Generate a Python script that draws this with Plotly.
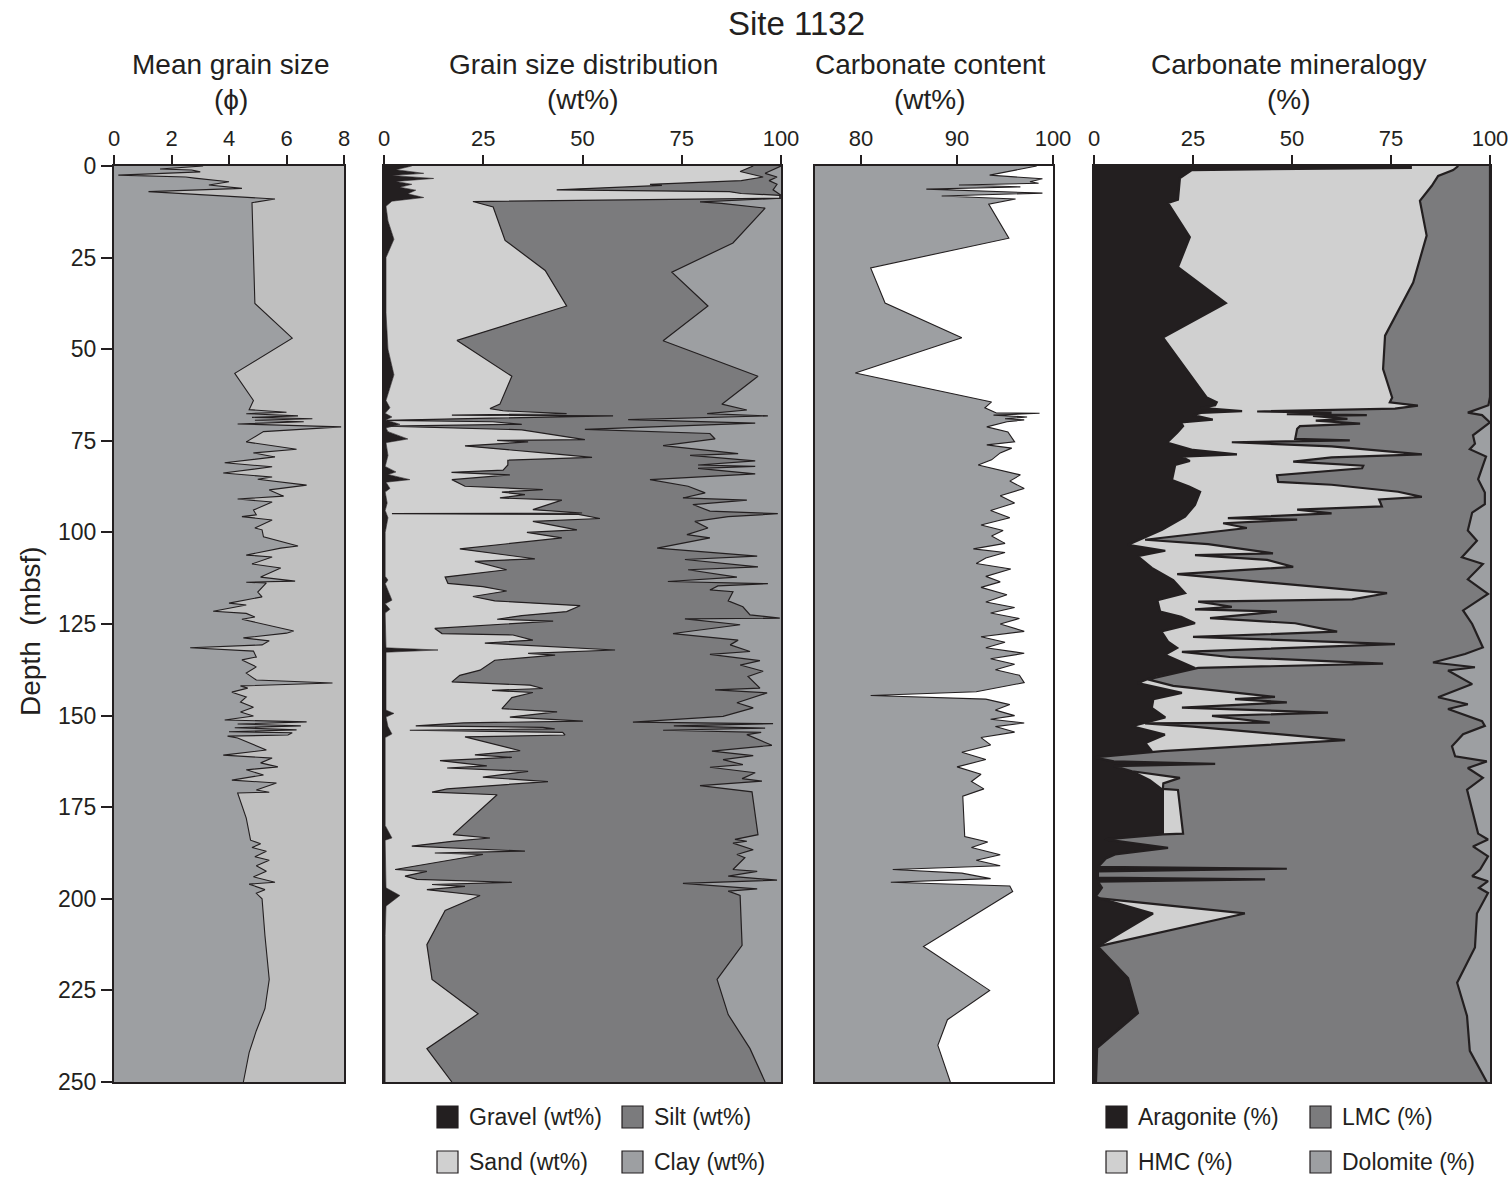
import plotly.graph_objects as go

# ---------------- data ----------------
# Mean grain size (phi)
mgs_depth = [0, 0.8, 1.1, 1.6, 2.5, 3.0, 3.3, 4.3, 5.2, 6.1, 7.0, 9.0, 10.0, 37.5, 47.0, 56.6, 64.0, 66.5, 67.2, 67.6,
             68.2, 68.6, 69.0, 69.4, 69.8, 70.4, 71.2, 72.5, 75.3, 77.3, 78.3, 79.4, 81.0, 82.1, 83.8, 84.9, 85.5, 87.1,
             88.4, 90.1, 90.9, 91.7, 93.9, 95.2, 95.7, 96.6, 98.8, 99.3, 101.2, 103.7, 104.3, 106.2, 106.7, 108.6, 109.7,
             112.2, 113.3, 113.6, 113.8, 116.3, 117.6, 119.3, 119.8, 121.5, 122.1, 123.1, 123.7, 125.0, 126.9, 127.5,
             128.8, 129.6, 130.7, 131.5, 132.4, 134.0, 134.8, 136.7, 138.4, 140.3, 141.1, 141.9, 142.5, 143.6, 144.9,
             146.3, 147.7, 149.0, 150.1, 151.2, 151.7, 152.3, 152.8, 153.3, 153.9, 154.4, 154.7, 155.3, 155.6, 156.1,
             159.4, 160.8, 161.6, 162.9, 164.0, 164.8, 166.2, 167.6, 168.4, 170.3, 170.9, 171.1, 178.0, 184.0, 185.0,
             186.0, 187.0, 188.5, 189.5, 191.0, 192.5, 194.0, 195.5, 196.0, 197.5, 198.5, 200.0, 210.0, 222.0, 230.0,
             236.0, 242.0, 250.0]
mgs_phi = [3.1, 1.6, 2.7, 3.0, 0.15, 2.5, 2.8, 4.0, 3.3, 4.45, 1.2, 5.6, 4.8, 4.9, 6.2, 4.2, 4.85, 4.7, 6.0, 4.6,
           6.4, 4.8, 6.9, 4.9, 6.6, 4.3, 7.9, 5.2, 4.6, 6.35, 4.85, 5.6, 3.85, 5.5, 3.8, 5.5, 5.0, 6.7,
           5.4, 5.9, 4.3, 5.5, 4.85, 4.95, 4.45, 5.5, 4.9, 5.15, 5.2, 6.4, 5.8, 4.6, 5.5, 4.8, 5.8,
           5.1, 6.3, 4.6, 5.3, 5.0, 5.15, 4.0, 4.6, 3.45, 4.6, 4.9, 4.45, 5.2, 6.25, 6.0,
           4.5, 5.4, 5.15, 2.65, 4.85, 4.95, 4.45, 4.95, 4.6, 4.95, 7.6, 4.4, 4.65, 4.1, 4.6,
           4.4, 4.85, 4.4, 4.85, 3.85, 6.7, 4.3, 6.5, 4.2, 6.35, 4.0, 6.2, 6.05, 3.95, 4.3,
           5.3, 3.8, 5.5, 5.1, 5.7, 4.6, 5.2, 4.1, 5.65, 4.95, 5.4, 4.3, 4.6, 4.75, 5.1,
           4.8, 5.3, 4.9, 5.4, 4.95, 5.3, 4.85, 5.6, 4.7, 5.25, 4.95, 5.15, 5.25, 5.4, 5.25,
           4.95, 4.7, 4.5]

# Grain size distribution: cumulative boundaries (wt%)
gravel_depth = [0, 1.0, 2.0, 2.6, 3.4, 4.2, 5.0, 5.8, 6.6, 7.6, 8.6, 9.6, 11, 15, 20, 25, 40, 50, 57, 64, 66, 67.5,
                68.5, 69.3, 70.5, 71.5, 72.5, 74.5, 75.5, 79, 82, 83.5, 84.2, 85.6, 86.3, 88, 89, 92, 94, 96, 100, 112,
                113, 114, 118.5, 119.5, 121, 122, 131.5, 132.1, 132.7, 140, 148.5, 149.4, 150.4, 153, 155, 156, 180,
                183.4, 184, 197, 199.1, 202, 210, 250]
gravel_cum = [7, 3, 10, 2, 12.5, 3, 7, 4, 8, 6, 10, 2, 0.5, 1, 2.5, 0.5, 0.5, 1, 2.5, 0.5, 1.5, 0.3,
              2, 0.5, 4, 0.5, 1, 6, 0.5, 1, 0.3, 3, 1, 6.5, 0.5, 1.5, 0.3, 0.8, 0.3, 1, 0.3, 0.3,
              1, 0.3, 2, 0.3, 1.5, 0.3, 0.5, 13.6, 0.5, 0.5, 0.5, 2.5, 0.5, 1, 2, 0.3, 0.3,
              2, 0.3, 0.5, 4, 0.5, 0.3, 0.3]

sand_depth = [0, 1.5, 3.0, 4.0, 5.0, 5.3, 6.5, 7.0, 7.5, 8.0, 8.8, 9.7, 11.2, 20.3, 28.5, 38.2, 47.6, 57.4, 65.0, 66.2,
              66.8, 67.6, 68.0, 68.2, 68.8, 69.4, 69.8, 70.5, 71.0, 71.5, 72.0, 74.7, 74.9, 75.3, 76.4, 78.5, 79.5,
              80.3, 81.6, 83.0, 83.6, 84.3, 85.6, 87.4, 88.3, 89.0, 89.7, 90.6, 91.2, 93.8, 94.7, 94.9, 95.1, 96.2,
              97.0, 99.3, 100.0, 101.5, 104.5, 107.2, 107.9, 110.2, 112.2, 113.9, 114.8, 116.0, 117.5, 118.7, 120.0,
              121.6, 122.7, 123.7, 124.2, 126.2, 127.6, 128.0, 129.4, 130.2, 132.1, 133.0, 133.5, 134.9, 137.6,
              139.0, 140.8, 141.7, 142.6, 143.1, 143.7, 145.1, 148.1, 149.0, 150.4, 151.5, 152.0, 152.8, 153.2,
              153.6, 154.0, 154.6, 155.3, 155.8, 159.6, 160.7, 161.4, 162.3, 163.7, 164.3, 165.2, 166.8, 168.0,
              170.0, 170.9, 171.6, 182.5, 183.4, 184.3, 185.6, 187.0, 187.5, 187.9, 192.0, 192.5, 193.8, 194.7,
              195.5, 196.1, 196.6, 197.5, 199.1, 203.2, 212.5, 222.0, 231.4, 240.9, 250.0]
sand_cum = [93, 89.7, 95.5, 90, 67, 70, 43.5, 87, 90, 99.7, 99.7, 22.4, 27.5, 30.5, 40.6, 46, 18.4, 32.2, 29.2, 26.7,
            30, 46, 17.1, 57.7, 27, 0.7, 27.4, 34.7, 1, 20, 34.7, 50.6, 28.5, 36.3, 20.4, 42.3, 52.4,
            31.2, 31.2, 30, 17, 31.7, 17.1, 20.4, 40, 29.7, 35.5, 29.2, 44.8, 37.5, 49.9, 2, 49, 54.4,
            37.5, 48.6, 36, 44.8, 19.1, 38, 22.9, 30.9, 15.4, 16.1, 24.9, 30.9, 22.4, 27.9, 49.4,
            46, 34.7, 28.5, 42.6, 12.8, 14.6, 32.5, 37.5, 25.4, 58.2, 36.3, 43.1, 27.9, 24.2,
            19.1, 17.1, 36.8, 40, 27.2, 37.5, 32.2, 29.7, 43.6, 31.7, 50.1, 20, 8, 40,
            43, 6.5, 45, 45.6, 20.4, 34.3, 22.9, 32.2, 14.1, 25.9, 15.9, 36.3, 24.9, 41.3,
            15.9, 12.1, 28.5, 17.4, 26.7, 17.1, 7, 35.5, 12.8, 24.9, 2.8, 10.8, 5.3, 8.3,
            32.2, 12.1, 20.4, 10.8, 24.2, 15.4, 10.8, 12.1, 23.7, 10.8, 17.1]

silt_depth = [0, 2.0, 3.0, 4.0, 5.0, 6.5, 8.0, 8.8, 9.8, 10.2, 11.5, 21.0, 29.0, 38.2, 47.7, 57.4, 65.0, 66.6, 67.6,
              68.2, 69.2, 70.2, 71.9, 73.0, 74.5, 76.3, 78.5, 79.0, 80.5, 81.6, 82.0, 82.5, 84.0, 85.6, 87.4, 89.2,
              90.6, 91.2, 92.4, 94.2, 94.9, 95.7, 97.0, 98.8, 100.6, 101.5, 104.3, 105.1, 106.5, 107.4, 109.4, 110.2,
              112.2, 113.4, 114.0, 114.6, 115.7, 116.2, 118.7, 120.3, 122.5, 123.4, 123.6, 125.2, 127.6, 129.4,
              130.7, 132.5, 133.3, 135.0, 136.2, 137.9, 139.3, 142.5, 143.0, 143.8, 146.5, 147.9, 150.2, 151.8,
              152.2, 152.8, 153.4, 154.0, 154.6, 155.2, 158.1, 159.7, 160.9, 162.0, 163.4, 164.1, 165.6, 167.2,
              167.9, 169.1, 170.8, 182.5, 183.8, 184.3, 184.8, 186.6, 187.9, 188.8, 192.0, 192.5, 193.8, 194.9,
              195.8, 197.3, 197.9, 199.1, 212.7, 222.0, 231.6, 240.9, 250.0]
silt_cum = [100, 96, 99, 97, 99, 98, 100, 100, 79.6, 85, 96, 87.9, 72.5, 81.6, 70.3, 94.2, 85.1, 91.4, 81.4,
            96.7, 61.5, 93.5, 50.6, 82.1, 83.4, 70.3, 89.2, 77.1, 93.5, 79.1, 93.5, 79.1, 93.5, 67, 76.6, 80.9,
            75.3, 91.4, 77.8, 82.1, 99.2, 86.7, 78.3, 81.6, 76.3, 82.1, 68.8, 78.3, 94, 75.8, 94.2, 76.6,
            88.9, 71.5, 96.7, 84.1, 82.1, 87.9, 86.7, 90.4, 92.2, 99.7, 75.8, 89.7, 72.8, 89.2,
            87.2, 92.2, 82.1, 94.7, 89.7, 95.5, 91.7, 94.7, 83.4, 96.5, 88.9, 93, 85.4, 62.7,
            98, 73, 96, 70.3, 95, 91.4, 97.7, 82.6, 93, 85.4, 90.4, 82.1, 93.5, 90.2,
            95.2, 79.6, 92.7, 94.2, 88.4, 91.4, 87.9, 93, 88.9, 90.9, 87.9, 94, 86.7, 99,
            75.3, 94, 86.7, 89.7, 90.2, 83.9, 86.7, 92.2, 96]

# Carbonate content (wt%)
carb_depth = [0, 2.5, 3.5, 4.3, 4.7, 5.2, 5.7, 6.3, 7.4, 8.2, 9.0, 10.4, 19.7, 27.8, 37.4, 46.9, 56.5, 64.4, 66.0,
              67.4, 67.5, 68.0, 68.5, 69.0, 69.3, 69.8, 71.2, 72.6, 75.3, 76.1, 77.0, 78.3, 80.2, 81.6, 84.3, 86, 88,
              90, 92, 94, 96, 98, 99.5, 101, 103, 104.5, 105.5, 107, 108.5, 110, 112, 113.5, 115, 117, 119, 120.5,
              122, 123.5, 125, 127, 128.5, 130, 131.5, 133, 134.5, 136, 137.5, 139, 141, 142.5, 143.5, 144.5, 145.5,
              147, 148.5, 150, 151, 152, 153, 154.5, 156, 158, 160, 162, 164, 166, 168, 170, 172, 183, 184.5, 186,
              188, 189.5, 191, 192, 193, 194.5, 195.5, 196.5, 198, 213, 225, 233, 240, 250]
carb_wt = [98.3, 93.4, 98.9, 97.6, 98.5, 90.2, 96.6, 86.8, 98.9, 88.4, 96.1, 93.3, 95.4, 81.0, 82.5, 90.5, 79.4, 93.6, 92.9,
           94.1, 98.6, 93.8, 97.3, 95.0, 97.0, 95.2, 93.1, 95.3, 96.0, 93.1, 95.7, 94.5, 93.6, 92.2, 96.6, 95.5, 97,
           94.5, 96, 93.5, 95.5, 92.5, 94.8, 93.6, 95, 91.7, 95, 93, 92, 95.6, 93, 94.5, 92.5, 95.2, 93, 96,
           93.5, 96.5, 94.5, 97, 92.5, 95, 93, 97, 93.5, 96, 94, 96.5, 97, 94, 92, 81.0, 93,
           95.5, 94, 96, 93.5, 97, 94, 96, 92.5, 93.5, 90.5, 93, 90, 92.5, 91.5, 92.8, 90.6, 90.8, 93.2, 91.5,
           94.5, 92, 94.5, 83.3, 90.5, 93.5, 83.1, 95.5, 95.8, 86.5, 93.4, 89, 88, 89.3]

# Carbonate mineralogy: cumulative boundaries (%)
arag_depth = [0, 0.5, 1.1, 3.3, 9.2, 10.1, 19.4, 27.6, 37.4, 46.8, 63.2, 64.5, 65.3, 66.0, 66.9, 67.4, 68.0, 69.2, 70.0,
              71.0, 72.8, 75.5, 77.5, 78.7, 79.3, 80.5, 81.6, 85.7, 87.5, 88.9, 92.5, 95.7, 99.3, 103.4, 105, 106.5,
              109.7, 113, 116.6, 118.5, 121.6, 123, 124.8, 127, 129.8, 131.5, 133.4, 137.0, 139, 141.1, 143.8, 145.5,
              147.9, 150.5, 152.9, 155.2, 157.5, 159.7, 161.4, 162.5, 163.2, 163.8, 165.2, 167.6, 170.3, 182.2,
              183.8, 186.1, 187.9, 189, 191.3, 191.8, 192.5, 194.2, 194.7, 195.3, 197, 199.3, 199.9, 204.0, 213.0,
              221.6, 231.2, 240.7, 250]
arag_cum = [80, 80, 24.7, 21.7, 21.2, 18.7, 24.2, 21.2, 33.3, 17.4, 28.5, 31, 30.6, 27, 37.4, 27, 25, 30, 22,
            22.5, 21, 18.4, 25, 36.1, 22, 24.2, 20.5, 19.7, 24, 26.8, 25.5, 23, 17.2, 8.6, 18, 11,
            14.6, 20, 23, 16, 16.7, 22, 25.5, 17, 18.7, 21, 17.9, 25.5, 16, 11.1, 22.2, 15,
            14.6, 18, 9.6, 17.9, 13, 14.6, 0, 5, 30.6, 5, 9.6, 14.1, 17.4, 17.4,
            2.8, 18.7, 5.3, 3, 1, 45, 1, 1, 40, 1, 2, 0.5, 1.5, 14.9, 1,
            8.6, 11.1, 0.8, 0.5]

hmc_depth = [0, 1.1, 2.7, 5.4, 9.5, 19.0, 31.8, 37.2, 46.3, 55.4, 63.2, 64.5, 65.4, 66.2, 67.0, 67.3, 67.7, 68.0, 68.2,
             69.0, 69.5, 70.3, 71.0, 71.7, 74.5, 74.9, 75.4, 76.5, 78.7, 79.5, 80.7, 81.8, 82.5, 84.4, 86.2, 87.0,
             88.9, 90.3, 91.0, 92.9, 93.8, 94.8, 96.1, 96.5, 97.5, 98.8, 102.0, 103.2, 105.7, 106.2, 107.5, 109.4,
             111.4, 116.6, 118.3, 118.9, 120.3, 121.0, 121.6, 123.4, 124.8, 127.1, 128.5, 130.5, 132.6, 134.0,
             135.8, 137.0, 140.1, 141.9, 144.9, 145.5, 146.4, 147.8, 149.2, 150.1, 151.9, 152.1, 153, 156.7,
             159.7, 161.4, 162.5, 163.2, 163.8, 165.2, 167.0, 168.5, 170.0, 170.3, 182.2, 182.4, 183.8, 186.1,
             187.9, 189, 191.3, 191.8, 192.5, 194.2, 194.7, 195.3, 197, 199.3, 199.9, 204.0, 213.0, 221.6, 231.2,
             240.7, 250]
hmc_cum = [92, 90.7, 86.9, 85.3, 82.3, 84, 80.6, 78, 73.5, 73, 75.3, 74.7, 81.8, 76, 41.2, 60, 48.7, 68.9, 55.3,
           64, 56, 67.2, 52, 51.3, 50.8, 64.6, 34.8, 60, 82.8, 60, 50.3, 68, 67.7, 46.2, 46.5, 60,
           76.8, 82.8, 72, 72.7, 51.3, 60, 33.8, 51.3, 32.6, 38.6, 12.9, 28.8, 45.2, 25.5, 43.7, 50.3,
           21, 74, 65.2, 26.3, 34.8, 25.5, 46.2, 29.3, 50.8, 61.4, 25, 76, 22.2, 34.3,
           73, 26.3, 13.6, 20, 45.7, 35.6, 48.7, 22.2, 59.1, 29.8, 44.4, 12.9, 25, 63.4,
           17.2, 0, 5, 30.6, 5, 9.6, 21.7, 17.5, 17.4, 21.2, 22.5, 17.4, 2.8, 18.7,
           5.3, 3, 1, 48.7, 1, 1, 43.2, 1, 2, 0.5, 1.5, 38.1, 1, 8.6, 11.1,
           0.8, 0.5]

lmc_depth = [0, 63, 65.3, 67.3, 68.0, 70.0, 73.5, 75.8, 77.3, 79.3, 81.8, 85.5, 89.1, 92.3, 94.6, 99.5, 102.3, 106.8,
             108.6, 112.8, 116.8, 121.3, 125.0, 131.4, 133.2, 135.5, 136.8, 137.7, 141.4, 145.0, 146.9, 148.2,
             151.5, 152.8, 155.1, 158.4, 161.1, 162.5, 164.3, 167.0, 170.2, 182.2, 183.8, 185.7, 188.4, 192.0,
             193.8, 195.2, 197.0, 198.4, 204.0, 213.3, 222.9, 232.0, 241.5, 250.0]
lmc_cum = [100, 100, 99.6, 94.4, 98, 100, 95.7, 96.2, 94.9, 99, 98.2, 97, 98.7, 98.7, 95.5, 94.4, 96.7, 92.9,
           98.2, 94.4, 99.5, 93.2, 95.5, 98.2, 93.7, 85.6, 96.2, 89.4, 95.5, 86.9, 94.4, 89.4,
           98, 98.7, 93.2, 90.4, 91.2, 99.2, 94.4, 98.2, 94.2, 97, 99.5, 95.7, 99.5, 97.5,
           95.5, 99.5, 97.2, 99.5, 96.7, 96.2, 91.7, 94.2, 94.9, 99.2]

depth_ticks = [0, 25, 50, 75, 100, 125, 150, 175, 200, 225, 250]

# ---------------- style ----------------
W, H = 1512, 1179
INK = "#231f20"
DARK = "#7b7b7d"
MID = "#9d9fa2"
LIGHT = "#d0d0d0"
PALE = "#bfbfbf"
FONT = "Liberation Sans, Arial, Helvetica, sans-serif"


def px(x):
    return x / W


def py(y):
    return 1 - y / H


ydom = [py(1082), py(166)]

fig = go.Figure()


def area(x, y, fill, color, axis, lw):
    fig.add_trace(go.Scatter(
        x=x, y=y, mode="lines", fill=fill, fillcolor=color,
        line=dict(color=INK, width=lw), xaxis="x" + axis, yaxis="y" + axis,
        hoverinfo="skip", showlegend=False))


# Panel 1
area(mgs_phi, mgs_depth, "tozerox", MID, "", 1.1)
# Panel 2
area(gravel_cum, gravel_depth, "tozerox", INK, "2", 0.6)
area(sand_cum, sand_depth, "tonextx", LIGHT, "2", 1.2)
area(silt_cum, silt_depth, "tonextx", DARK, "2", 1.2)
# Panel 3
area(carb_wt, carb_depth, "tozerox", MID, "3", 1.1)
# Panel 4
area(arag_cum, arag_depth, "tozerox", INK, "4", 2.2)
area(hmc_cum, hmc_depth, "tonextx", LIGHT, "4", 2.2)
area(lmc_cum, lmc_depth, "tonextx", DARK, "4", 2.2)

xtickfont = dict(family=FONT, size=22, color=INK)
ytickfont = dict(family=FONT, size=23, color=INK)
xcommon = dict(side="top", showline=True, mirror=True, linecolor=INK, linewidth=2,
               ticks="outside", ticklen=9, tickwidth=2, tickcolor=INK, tickfont=xtickfont,
               showgrid=False, zeroline=False, fixedrange=True, automargin=False)
ycommon = dict(range=[250, 0], showline=True, mirror=True, linecolor=INK, linewidth=2,
               showgrid=False, zeroline=False, fixedrange=True, domain=ydom, automargin=False)

fig.update_layout(
    width=W, height=H, autosize=False,
    margin=dict(l=0, r=0, t=0, b=0, pad=0),
    paper_bgcolor="white", plot_bgcolor="white",
    font=dict(family=FONT, color=INK),
    xaxis=dict(domain=[px(114), px(344)], range=[0, 8], tickvals=[0, 2, 4, 6, 8], anchor="y", **xcommon),
    xaxis2=dict(domain=[px(384), px(781)], range=[0, 100], tickvals=[0, 25, 50, 75, 100], anchor="y2", **xcommon),
    xaxis3=dict(domain=[px(815), px(1053)], range=[75.2, 100], tickvals=[80, 90, 100], anchor="y3", **xcommon),
    xaxis4=dict(domain=[px(1094), px(1490)], range=[0, 100], tickvals=[0, 25, 50, 75, 100], anchor="y4", **xcommon),
    yaxis=dict(anchor="x", tickvals=depth_ticks, ticks="outside", ticklen=11, tickwidth=2, tickcolor=INK,
               tickfont=ytickfont, **ycommon),
    yaxis2=dict(anchor="x2", matches="y", showticklabels=False, ticks="", **ycommon),
    yaxis3=dict(anchor="x3", matches="y", showticklabels=False, ticks="", **ycommon),
    yaxis4=dict(anchor="x4", matches="y", showticklabels=False, ticks="", **ycommon),
)

# background fills for the right-hand parts of panels 1, 2 and 4
for ax, col in [("x", PALE), ("x2", MID), ("x4", MID)]:
    yref = "y" if ax == "x" else "y" + ax[1:]
    fig.add_shape(type="rect", xref=ax + " domain", yref=yref + " domain", x0=0, x1=1, y0=0, y1=1,
                  fillcolor=col, line=dict(width=0), layer="below")

annots = []


def text(x, y, s, size, xanchor="center", angle=0):
    annots.append(dict(x=px(x), y=py(y), xref="paper", yref="paper", text=s, showarrow=False,
                       xanchor=xanchor, yanchor="middle", textangle=angle,
                       font=dict(family=FONT, size=size, color=INK)))


text(796, 23, "Site 1132", 33)
for cx, t1, t2 in [(231, "Mean grain size", "(ϕ)"), (583, "Grain size distribution", "(wt%)"),
                   (930, "Carbonate content", "(wt%)"), (1289, "Carbonate mineralogy", "(%)")]:
    text(cx, 64, t1, 28)
    text(cx, 99, t2, 28)
text(30, 631, "Depth  (mbsf)", 28, angle=-90)

legend_items = [
    (437, 1117, INK, "Gravel (wt%)"), (622, 1117, DARK, "Silt (wt%)"),
    (437, 1162, LIGHT, "Sand (wt%)"), (622, 1162, MID, "Clay (wt%)"),
    (1106, 1117, INK, "Aragonite (%)"), (1310, 1117, DARK, "LMC (%)"),
    (1106, 1162, LIGHT, "HMC (%)"), (1310, 1162, MID, "Dolomite (%)"),
]
for lx, ly, col, lab in legend_items:
    fig.add_shape(type="rect", xref="paper", yref="paper", x0=px(lx), x1=px(lx + 21),
                  y0=py(ly + 11), y1=py(ly - 11), fillcolor=col, line=dict(color=INK, width=1.2))
    text(lx + 30, ly, lab, 23, xanchor="left")

fig.update_layout(annotations=annots)
fig.write_html("out.html", config={"displayModeBar": False},
               post_script="document.body.style.margin='0';document.body.style.overflow='hidden';")
